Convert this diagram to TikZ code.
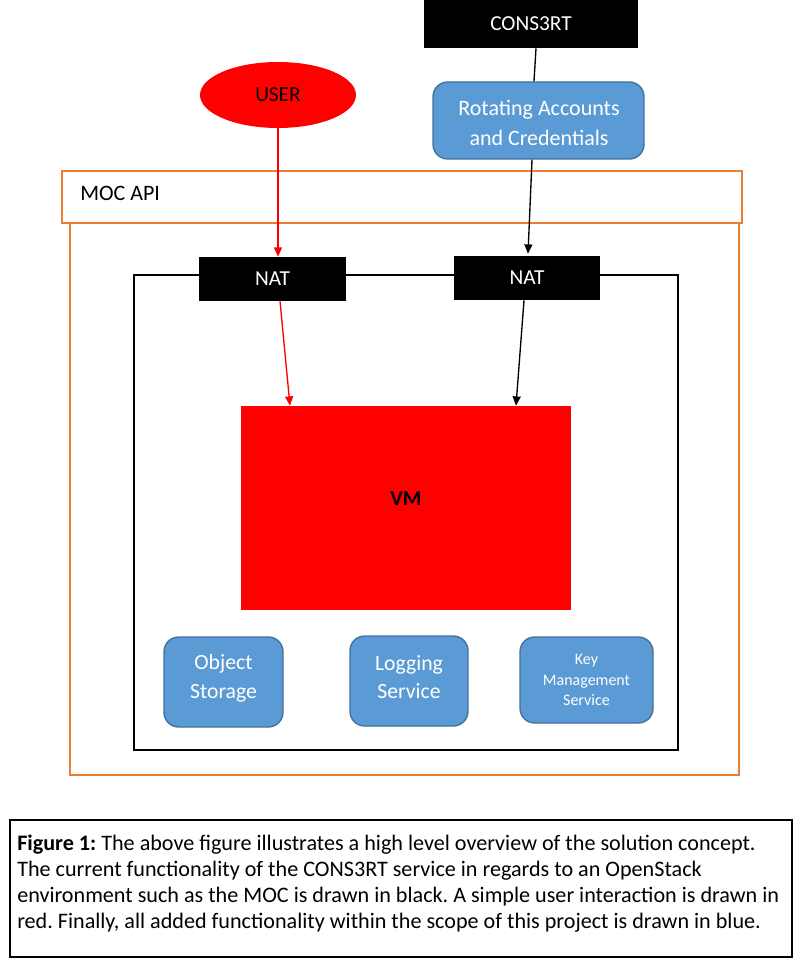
\documentclass[tikz,border=0pt]{standalone}
\usepackage{fontspec}
\setmainfont{Carlito}
\usetikzlibrary{arrows.meta,shapes.geometric}

\definecolor{mocorange}{HTML}{ED7D31}
\definecolor{svcblue}{HTML}{5B9BD5}
\definecolor{svcedge}{HTML}{41719C}

\def\px{0.75pt} % one pixel of the reference

\tikzset{
  mocbox/.style={draw=mocorange, line width=1.3pt, inner sep=0pt},
  netbox/.style={draw=black, line width=1.5pt, inner sep=0pt},
  blackbox/.style={fill=black, text=white, inner sep=0pt, font=\fontsize{16}{19}\selectfont},
  svcbox/.style={fill=svcblue, draw=svcedge, line width=1pt, rounded corners=11pt,
    text=white, align=center, inner sep=0pt, font=\fontsize{16.3}{21.5}\selectfont},
  flow/.style={line width=1pt, -{Triangle[length=7pt,width=6pt]}},
}

\begin{document}
\frenchspacing
\begin{tikzpicture}[x=0.75pt, y=-0.75pt]
\useasboundingbox (0,0) rectangle (798,963);

% MOC boxes
\node[mocbox, minimum width=669*\px, minimum height=552*\px] (moc) at (404.5,499) {};
\node[mocbox, fill=white, minimum width=680*\px, minimum height=52*\px] (api) at (402,197) {};
\node[anchor=west, inner sep=0pt, font=\fontsize{16.5}{19}\selectfont] (apitext) at (80,193) {MOC API};

% network
\node[netbox, minimum width=544*\px, minimum height=475*\px] (net) at (406,512.5) {};

% top
\node[blackbox, minimum width=214*\px, minimum height=48*\px] (cons) at (531,24) {CONS3RT};
\node[ellipse, fill=red, inner sep=0pt, minimum width=156*\px, minimum height=66*\px,
  font=\fontsize{16}{19}\selectfont] (user) at (278,95) {USER};
\node[svcbox, minimum width=211*\px, minimum height=77*\px,
  font=\fontsize{16.5}{22}\selectfont] (rot) at (538.5,120.5) {};
\node[align=center, text=white, inner sep=0pt, font=\fontsize{16.5}{22}\selectfont]
  (rottext) at (539,123) {Rotating Accounts\\and Credentials};

% NATs
\node[blackbox, minimum width=147*\px, minimum height=44*\px] (natl) at (272.5,279) {NAT};
\node[blackbox, minimum width=146*\px, minimum height=44*\px] (natr) at (527,278) {NAT};

% VM
\node[fill=red, inner sep=0pt, minimum width=330*\px, minimum height=204*\px] (vm) at (406,508) {};
\node[font=\fontsize{16}{19}\selectfont\bfseries, inner sep=0pt] (vmtext) at (406,499) {VM};

% services
\node[svcbox, minimum width=119*\px, minimum height=90*\px] (obj) at (223.5,682) {};
\node[align=center, text=white, inner sep=0pt, font=\fontsize{16.3}{21.5}\selectfont]
  (objtext) at (223.5,678) {Object\\Storage};
\node[svcbox, minimum width=118*\px, minimum height=90*\px] (log) at (409,681) {};
\node[align=center, text=white, inner sep=0pt, font=\fontsize{16.3}{21.5}\selectfont]
  (logtext) at (409,677) {Logging\\Service};
\node[svcbox, minimum width=133*\px, minimum height=86*\px,
  font=\fontsize{12}{15.6}\selectfont] (key) at (586.5,680) {Key\\Management\\Service};

% connectors
\draw[line width=1pt] (cons.south -| 536,0) -- (rot.north -| 534,0);
\draw[flow, red] (user.south) -- (natl.north -| user.south);
\draw[flow, red] (natl.south -| 280,0) -- (vm.north -| 290,0);
\draw[flow] (rot.south -| 532,0) -- ([yshift=1.5pt]natr.north -| 528,0);
\draw[flow] (natr.south -| 524,0) -- (vm.north -| 516,0);

% caption
\node[draw=black, line width=0.9pt, minimum width=782*\px, minimum height=137*\px] (capbox) at (401,888.5) {};
\node[anchor=north west, align=left, inner sep=0pt, font=\fontsize{16.6}{19.3}\selectfont] (caption) at (17,835)
  {\textbf{Figure 1:} The above figure illustrates a high level overview of the solution concept.\\
   The current functionality of the CONS3RT service in regards to an OpenStack\\
   environment such as the MOC is drawn in black. A simple user interaction is drawn in\\
   red. Finally, all added functionality within the scope of this project is drawn in blue.};

\end{tikzpicture}
\end{document}
